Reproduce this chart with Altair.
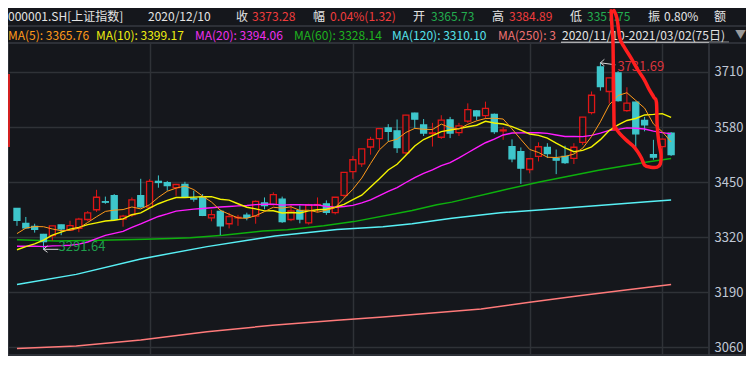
import altair as alt
import pandas as pd

# ---------------- data ----------------
dates = [
    "2020/11/10", "2020/11/11", "2020/11/12", "2020/11/13", "2020/11/16", "2020/11/17", "2020/11/18", "2020/11/19", "2020/11/20",
    "2020/11/23", "2020/11/24", "2020/11/25", "2020/11/26", "2020/11/27", "2020/11/30",
    "2020/12/01", "2020/12/02", "2020/12/03", "2020/12/04", "2020/12/07", "2020/12/08", "2020/12/09", "2020/12/10", "2020/12/11",
    "2020/12/14", "2020/12/15", "2020/12/16", "2020/12/17", "2020/12/18", "2020/12/21", "2020/12/22", "2020/12/23", "2020/12/24",
    "2020/12/25", "2020/12/28", "2020/12/29", "2020/12/30", "2020/12/31",
    "2021/01/04", "2021/01/05", "2021/01/06", "2021/01/07", "2021/01/08", "2021/01/11", "2021/01/12", "2021/01/13", "2021/01/14",
    "2021/01/15", "2021/01/18", "2021/01/19", "2021/01/20", "2021/01/21", "2021/01/22", "2021/01/25", "2021/01/26", "2021/01/27",
    "2021/01/28", "2021/01/29",
    "2021/02/01", "2021/02/02", "2021/02/03", "2021/02/04", "2021/02/05", "2021/02/08", "2021/02/09", "2021/02/10", "2021/02/18",
    "2021/02/19", "2021/02/22", "2021/02/23", "2021/02/24", "2021/02/25", "2021/02/26",
    "2021/03/01", "2021/03/02",
]
opens = [
    3388, 3353, 3346, 3327, 3324, 3349, 3337, 3341, 3362, 3385, 3404, 3418, 3363, 3373, 3418,
    3391, 3452, 3449, 3437, 3445, 3412, 3414, 3365.73, 3381, 3352, 3366, 3372, 3370, 3401, 3397, 3410, 3362, 3383, 3354, 3396, 3399, 3378, 3419,
    3475, 3493, 3533, 3553, 3578, 3571, 3519, 3613, 3585, 3565, 3556, 3597, 3567, 3594, 3618, 3607, 3610, 3571, 3534, 3522,
    3480, 3511, 3532, 3506, 3511, 3506, 3544, 3614, 3722, 3664, 3708, 3619, 3639, 3596, 3515, 3534, 3566,
]
highs = [
    3389, 3368, 3352, 3328, 3347, 3350, 3359, 3366, 3382, 3432, 3416, 3422, 3373, 3414, 3458,
    3457, 3466, 3453, 3446, 3451, 3430, 3422, 3384.89, 3385, 3378, 3373, 3378, 3407, 3414, 3426, 3416, 3395, 3395, 3399, 3414, 3407, 3415, 3474,
    3512, 3529, 3557, 3577, 3587, 3598, 3609, 3614, 3599, 3590, 3608, 3604, 3590, 3636, 3620, 3640, 3612, 3580, 3551, 3532,
    3506, 3544, 3542, 3527, 3536, 3542, 3604, 3664, 3731.69, 3697, 3712, 3674, 3640, 3604, 3550, 3553, 3568,
]
lows = [
    3347, 3341, 3331, 3291.64, 3312, 3325, 3335, 3332, 3358, 3380, 3399, 3361, 3345, 3368, 3390,
    3389, 3437, 3430, 3418, 3414, 3404, 3370, 3357.75, 3325, 3341, 3347, 3360, 3352, 3386, 3395, 3354, 3358, 3353, 3350, 3379, 3373, 3374, 3414,
    3458, 3486, 3515, 3528, 3546, 3519, 3515, 3577, 3559, 3534, 3552, 3554, 3559, 3590, 3596, 3600, 3564, 3550, 3497, 3446,
    3471, 3499, 3507, 3469, 3493, 3493, 3538, 3610, 3666, 3635, 3640, 3616, 3532, 3570, 3503, 3507, 3512,
]
closes = [
    3360.15, 3342.20, 3338.68, 3310.10, 3346.97, 3339.90, 3347.30, 3363.09, 3377.73, 3414.49, 3402.82, 3362.33, 3369.73, 3408.31, 3391.76,
    3451.94, 3449.38, 3442.14, 3444.58, 3416.60, 3410.18, 3371.96, 3373.28, 3347.19, 3369.12, 3367.23, 3366.98, 3404.87, 3394.90, 3420.57,
    3356.78, 3382.32, 3363.11, 3396.56, 3397.29, 3379.04, 3414.45, 3473.07,
    3502.96, 3528.68, 3550.88, 3576.20, 3570.11, 3531.50, 3608.34, 3598.65, 3565.90, 3566.38, 3596.22, 3566.12, 3583.09, 3621.26, 3606.75,
    3624.24, 3569.43, 3573.34, 3505.18, 3483.07,
    3505.28, 3533.68, 3517.31, 3501.86, 3496.33, 3532.44, 3603.49, 3655.09, 3675.36, 3696.17, 3642.44, 3636.36, 3564.08, 3585.05, 3509.08,
    3551.40, 3515.00,
]
# closes of the 19 sessions before 2020/11/10 (needed for MA5/10/20)
prior_closes = [3340.79, 3332.18, 3336.36, 3312.67, 3328.10, 3325.03, 3312.50, 3278.00, 3251.12, 3254.32,
                3269.24, 3272.74, 3224.53, 3225.12, 3271.07, 3277.44, 3320.13, 3312.16, 3373.73]

# long moving averages (session index, value)
ma60_idx = [0, 4.5, 9.3, 14.5, 17.4, 19.6, 23.3, 27.8, 30.6, 34.7, 38.1, 44.7, 47.5, 49.2, 54.7, 59.1, 65.8, 71.3, 74]
ma60_val = [3314.5, 3311.5, 3313, 3315.4, 3317, 3319, 3325, 3334.6, 3337.6, 3347, 3357, 3383, 3396.6, 3403, 3430, 3450.7, 3478, 3497.8, 3505.7]
ma120_idx = [0, 6.7, 14, 21.5, 27, 29.2, 36.2, 38.1, 41.4, 44.7, 49.2, 54.7, 60.2, 65.8, 71.3, 74]
ma120_val = [3208.6, 3232.5, 3269, 3298, 3316, 3323, 3338.6, 3340.5, 3344.6, 3352, 3365, 3378, 3386, 3395, 3404, 3408]
ma250_idx = [0, 6.7, 14, 21.5, 28.9, 36.2, 41.4, 52.5, 58, 63.6, 69.1, 74]
ma250_val = [3057.7, 3063.7, 3077.6, 3097, 3112.5, 3124, 3132, 3151, 3166.8, 3182, 3196, 3208.6]

y_ticks = [3060, 3190, 3320, 3450, 3580, 3710]

# hand-drawn red loop annotation (session index, value)
loop_idx = [67.21, 67.32, 67.43, 67.54, 67.65, 68.17, 68.90, 69.65, 70.20, 70.64, 71.01, 71.67, 72.42, 72.78,
            72.86, 72.60, 72.42, 72.34, 72.05, 71.50, 70.94, 70.20, 69.46, 68.65, 68.21, 67.88, 67.54]
loop_val = [3854.6, 3812.8, 3775.7, 3592.3, 3580.7, 3565.1, 3549.8, 3536.6, 3522.7, 3507.1, 3490.2, 3485.5, 3485.5, 3493.2,
            3515.0, 3545.9, 3584.6, 3638.7, 3650.3, 3669.6, 3692.8, 3716.0, 3743.2, 3770.3, 3789.6, 3836.0, 3855.0]

# ---------------- style ----------------
FONT = "Noto Sans CJK SC"
BG = "#15171c"
GRID = "#2f3237"
BORDER = "#363a40"
UP = "#e01616"
DOWN = "#3ec6cb"
W_TXT = "#e4e4e4"
RED_TXT = "#f03c3c"
GRN_TXT = "#23ad4f"
C_MA5, C_MA10, C_MA20 = "#ff9a1a", "#f4f400", "#ff1cff"
C_MA60, C_MA120, C_MA250 = "#0db00d", "#58f0f5", "#ff7a7a"

PW, PH = 701, 312
x_scale = alt.Scale(domain=[-0.45, 77.72], nice=False, zero=False)
y_scale = alt.Scale(domain=[3042.3, 3778.4], nice=False, zero=False)

month_starts = [i for i in range(1, len(dates)) if dates[i][5:7] != dates[i - 1][5:7]]


def X(field="idx"):
    return alt.X(f"{field}:Q", scale=x_scale, title=None,
                 axis=alt.Axis(values=month_starts, grid=True, gridColor=GRID, gridWidth=1.5,
                               labels=False, ticks=False, domain=False))


def Y(field):
    return alt.Y(f"{field}:Q", scale=y_scale, title=None,
                 axis=alt.Axis(orient="right", values=y_ticks, format="d", grid=True, gridColor=GRID, gridWidth=1.5,
                               ticks=False, tickSize=0, domain=False, labelColor="#c0c8d6", labelFont=FONT,
                               labelFontSize=13, labelPadding=5, labelOverlap=False))


cdf = pd.DataFrame({"idx": range(len(dates)), "date": dates, "open": opens, "high": highs,
                    "low": lows, "close": closes})
is_up = alt.datum.close >= alt.datum.open

wicks = alt.Chart(cdf).mark_rule(strokeWidth=1).encode(
    x=X(), y=Y("low"), y2="high:Q",
    color=alt.when(is_up).then(alt.value(UP)).otherwise(alt.value(DOWN)))
bodies = alt.Chart(cdf).mark_bar(size=6, strokeWidth=1.3).encode(
    x=X(), y=Y("open"), y2="close:Q",
    fill=alt.when(is_up).then(alt.value(BG)).otherwise(alt.value(DOWN)),
    stroke=alt.when(is_up).then(alt.value(UP)).otherwise(alt.value(DOWN)))

ma_src = pd.DataFrame({"idx": list(range(-len(prior_closes), len(closes))), "close": prior_closes + closes})
ma_base = (alt.Chart(ma_src)
           .transform_window(ma5="mean(close)", frame=[-4, 0], sort=[alt.SortField("idx")])
           .transform_window(ma10="mean(close)", frame=[-9, 0], sort=[alt.SortField("idx")])
           .transform_window(ma20="mean(close)", frame=[-19, 0], sort=[alt.SortField("idx")])
           .transform_filter(alt.datum.idx >= 0))
ma5 = ma_base.mark_line(color=C_MA5, strokeWidth=1).encode(x=X(), y=Y("ma5"))
ma10 = ma_base.mark_line(color=C_MA10, strokeWidth=1.4).encode(x=X(), y=Y("ma10"))
ma20 = ma_base.mark_line(color=C_MA20, strokeWidth=1.4).encode(x=X(), y=Y("ma20"))


def static_line(ix, vals, color):
    return alt.Chart(pd.DataFrame({"idx": ix, "v": vals})).mark_line(color=color, strokeWidth=1.5).encode(
        x=X(), y=Y("v"))


ma60 = static_line(ma60_idx, ma60_val, C_MA60)
ma120 = static_line(ma120_idx, ma120_val, C_MA120)
ma250 = static_line(ma250_idx, ma250_val, C_MA250)

# extreme annotations
hi_i = highs.index(max(highs))
lo_i = lows.index(min(lows))
hi_df = pd.DataFrame({"idx": [hi_i], "v": [highs[hi_i]], "t": [f"{highs[hi_i]:.2f}"]})
lo_df = pd.DataFrame({"idx": [lo_i], "v": [lows[lo_i]], "t": [f"{lows[lo_i]:.2f}"]})
ARROW = "#d6d6d6"


def arrow(df, dx, dy):
    parts = []
    for (ox, oy) in [(dx, dy), (4, -3.5), (4, 3)]:
        parts.append(alt.Chart(df).mark_rule(color=ARROW, strokeWidth=1, x2Offset=ox, y2Offset=oy).encode(
            x=X(), x2="idx:Q", y=Y("v"), y2="v:Q"))
    return parts


hi_txt = alt.Chart(hi_df).mark_text(align="left", baseline="middle", dx=17, dy=4, font=FONT, fontSize=13,
                                    color="#d8343c").encode(x=X(), y=Y("v"), text="t:N")
lo_txt = alt.Chart(lo_df).mark_text(align="left", baseline="middle", dx=15, dy=-2, font=FONT, fontSize=13,
                                    color="#1f9e4c").encode(x=X(), y=Y("v"), text="t:N")

loop = alt.Chart(pd.DataFrame({"k": range(len(loop_idx)), "idx": loop_idx, "v": loop_val})).mark_line(
    color="#ff1e1e", strokeWidth=3.5, strokeCap="round", strokeJoin="round", interpolate="cardinal").encode(
    x=X(), y=Y("v"), order="k:Q")

# ---------------- header ----------------
_one = pd.DataFrame({"d": [0]})


def txt(s, x, y, color, size=12):
    return alt.Chart(pd.DataFrame({"s": [s]})).mark_text(
        align="left", baseline="middle", font=FONT, fontSize=size, color=color).encode(
        text="s:N", x=alt.value(x), y=alt.value(y))


def hline(x1, x2, y, color, w=1.0):
    return alt.Chart(_one).mark_rule(color=color, strokeWidth=w).encode(
        x=alt.value(x1), x2=alt.value(x2), y=alt.value(y))


row1 = [
    ("000001.SH[上证指数]", 0, W_TXT), ("2020/12/10", 140, W_TXT),
    ("收", 228, W_TXT), ("3373.28", 244, RED_TXT),
    ("幅", 305, W_TXT), ("0.04%(1.32)", 322, RED_TXT),
    ("开", 405, W_TXT), ("3365.73", 423, GRN_TXT),
    ("高", 484, W_TXT), ("3384.89", 501, RED_TXT),
    ("低", 562, W_TXT), ("3357.75", 579, GRN_TXT),
    ("振", 640, W_TXT), ("0.80%", 656, W_TXT),
    ("额", 706, W_TXT),
]
row2 = [
    ("MA(5): 3365.76", 0, C_MA5), ("MA(10): 3399.17", 88, "#eeee10"),
    ("MA(20): 3394.06", 187, "#ee30ee"), ("MA(60): 3328.14", 286, "#1fb21f"),
    ("MA(120): 3310.10", 384, "#56e3ec"), ("MA(250): 3", 490, "#f07272"),
    ("2020/11/10-2021/03/02(75日)", 554, W_TXT),
]
ROW1_Y, ROW2_Y = -26, -7.5
header = [txt(s, x, ROW1_Y, c) for s, x, c in row1] + [txt(s, x, ROW2_Y, c) for s, x, c in row2]
header.append(txt("▼", 727, ROW2_Y, "#9a9a9a", 11))
deco = [
    hline(0, 738, -17, BORDER, 1.5),
    hline(553, 721, -0.8, W_TXT, 1),
    hline(PW, 738, 0, BORDER, 1.5),
    hline(PW, 738, PH, BORDER, 1.5),
    alt.Chart(_one).mark_rule(color="#d42020", strokeWidth=2).encode(
        x=alt.value(1), y=alt.value(31), y2=alt.value(104)),
]

layers = [ma250, ma120, ma60, wicks, bodies, ma20, ma10, ma5] + arrow(hi_df, 15, 2) + arrow(lo_df, 15, 0) + \
    [hi_txt, lo_txt] + deco + header + [loop]

chart = alt.layer(*layers).properties(
    width=PW, height=PH,
    padding={"left": 0, "top": 35, "right": 37, "bottom": 1},
    autosize=alt.AutoSizeParams(type="none"),
    background=BG,
).configure_view(stroke=BORDER, strokeWidth=1.5)

chart.save("out.html", embed_options={"renderer": "svg", "actions": False})
